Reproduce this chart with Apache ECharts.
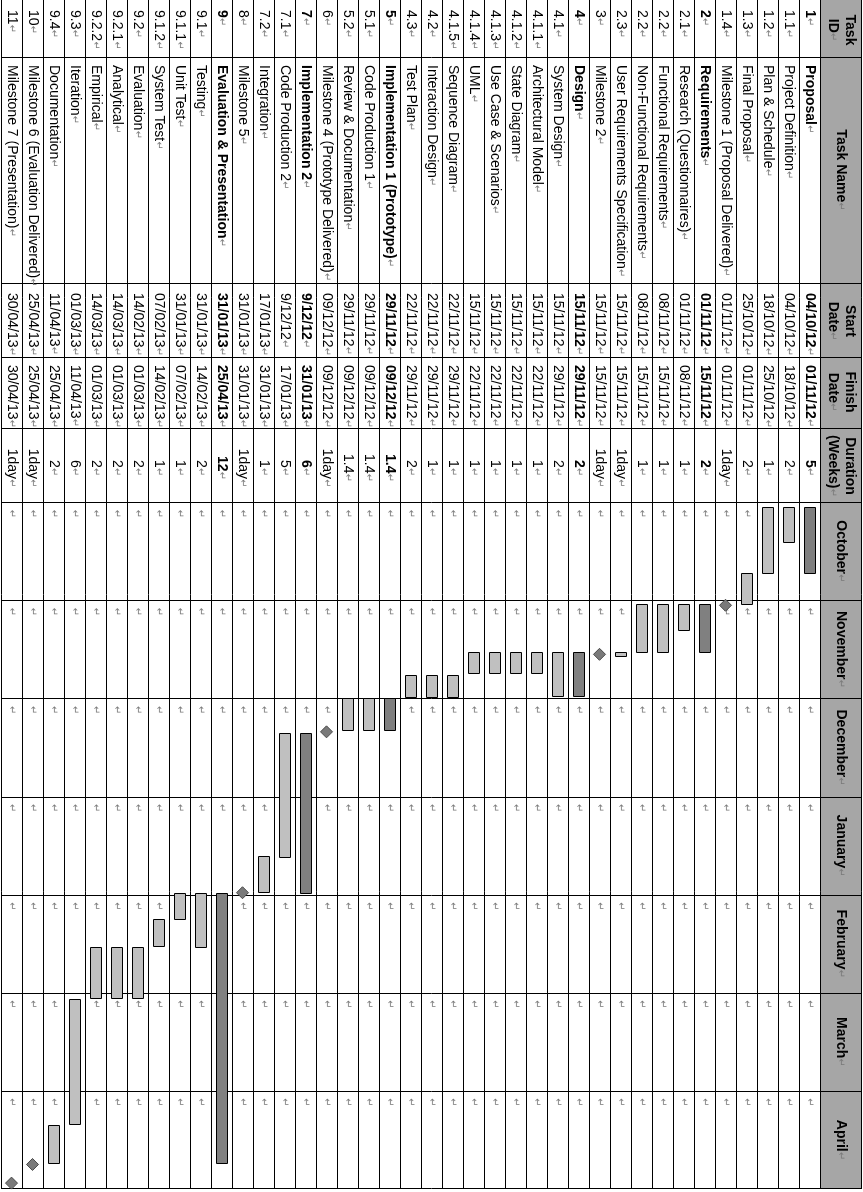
<!DOCTYPE html>
<html>
<head>
<meta charset="utf-8">
<script src="https://cdn.jsdelivr.net/npm/echarts@6/dist/echarts.min.js"></script>
<style>
html,body{margin:0;padding:0;background:#fff;}
#c{width:863px;height:1192px;}
</style>
</head>
<body>
<div id="c"></div>
<script>
// ---------------- DATA ----------------
const taskIds = ['1','1.1','1.2','1.3','1.4','2','2.1','2.2','2.2','2.3','3','4','4.1','4.1.1','4.1.2','4.1.3','4.1.4','4.1.5','4.2','4.3','5','5.1','5.2','6','7','7.1','7.2','8','9','9.1','9.1.1','9.1.2','9.2','9.2.1','9.2.2','9.3','9.4','10','11'];
const taskNames = ['Proposal','Project Definition','Plan & Schedule','Final Proposal','Milestone 1 (Proposal Delivered)','Requirements','Research (Questionnaires)','Functional Requirements','Non-Functional Requirements','User Requirements Specification','Milestone 2','Design','System Design','Architectural Model','State Diagram','Use Case & Scenarios','UML','Sequence Diagram','Interaction Design','Test Plan','Implementation 1 (Prototype)','Code Production 1','Review & Documentation','Milestone 4 (Prototype Delivered)','Implementation 2','Code Production 2','Integration','Milestone 5','Evaluation & Presentation','Testing','Unit Test','System Test','Evaluation','Analytical','Empirical','Iteration','Documentation','Milestone 6 (Evaluation Delivered)','Milestone 7 (Presentation)'];
const startDates = ['04/10/12','04/10/12','18/10/12','25/10/12','01/11/12','01/11/12','01/11/12','08/11/12','08/11/12','15/11/12','15/11/12','15/11/12','15/11/12','15/11/12','15/11/12','15/11/12','15/11/12','22/11/12','22/11/12','22/11/12','29/11/12','29/11/12','29/11/12','09/12/12','9/12/12','9/12/12','17/01/13','31/01/13','31/01/13','31/01/13','31/01/13','07/02/13','14/02/13','14/03/13','14/03/13','01/03/13','11/04/13','25/04/13','30/04/13'];
const finishDates = ['01/11/12','18/10/12','25/10/12','01/11/12','01/11/12','15/11/12','08/11/12','15/11/12','15/11/12','15/11/12','15/11/12','29/11/12','29/11/12','22/11/12','22/11/12','22/11/12','22/11/12','29/11/12','29/11/12','29/11/12','09/12/12','09/12/12','09/12/12','09/12/12','31/01/13','17/01/13','31/01/13','31/01/13','25/04/13','14/02/13','07/02/13','14/02/13','01/03/13','01/03/13','01/03/13','11/04/13','25/04/13','25/04/13','30/04/13'];
const durations = ['5','2','1','2','1day','2','1','1','1','1day','1day','2','2','1','1','1','1','1','1','2','1.4','1.4','1.4','1day','6','5','1','1day','12','2','1','1','2','2','2','6','2','1day','1day'];
// S = summary (bold, dark bar), T = task (light bar), M = milestone (diamond)
const taskKinds = ['S','T','T','T','M','S','T','T','T','T','M','S','T','T','T','T','T','T','T','T','S','T','T','M','S','T','T','M','S','T','T','T','T','T','T','T','T','M','M'];
// bar extents, in months since the start of October (0 = 1 Oct column edge)
const barStart = [0.05,0.05,0.05,0.72,null,1.04,1.04,1.04,1.04,1.53,null,1.53,1.53,1.53,1.53,1.53,1.53,1.76,1.76,1.76,1.99,1.99,1.99,null,2.35,2.35,3.61,null,3.98,3.98,3.98,4.25,4.53,4.53,4.53,5.06,6.35,null,null];
const barEnd   = [0.72,0.41,0.72,1.04,null,1.53,1.31,1.53,1.53,1.57,null,1.98,1.98,1.74,1.74,1.74,1.74,1.98,1.98,1.98,2.32,2.32,2.32,null,3.98,3.61,3.98,null,6.73,4.53,4.25,4.53,5.05,5.05,5.05,6.33,6.74,null,null];
const milestoneAt = [null,null,null,null,1.05,null,null,null,null,null,1.55,null,null,null,null,null,null,null,null,null,null,null,null,2.34,null,null,null,3.98,null,null,null,null,null,null,null,null,null,6.75,6.94];
const months = ['October','November','December','January','February','March','April'];
const columnHeaders = ['Task\nID','Task Name','Start\nDate','Finish\nDate','Duration\n(Weeks)'];

// ---------------- LAYOUT / STYLE ----------------
const U_MIN = -5.12, U_MAX = 7;          // vertical axis (month units; negative = text columns)
const R_MIN = -2, R_MAX = 39;            // horizontal axis (rows; header occupies -2..0)
const COL_EDGES_PX = [57, 283, 357, 428];// text column separators (px from table top)
const COL_TEXT = [ {at:10, align:'left'}, {at:65, align:'left'}, {at:293, align:'left'}, {at:365, align:'left'}, {at:468, align:'center'} ];
const HEAD_CENTERS_PX = [30, 170, 321, 392, 466];
const FONT = '"Liberation Sans", Arial, sans-serif';
const FS = 14;
const MARK = '{m|\u21B5}';
const RICH = { m: { fontFamily: '"DejaVu Sans", sans-serif', fontSize: 10, fill: '#7a7a7a', fontWeight: 'normal' } };
const HEADER_BG = '#a6a6a6';
const DARK = '#808080', LIGHT = '#c0c0c0';

function crisp(v){ return Math.round(v) + 0.5; }

function rotText(x, y, text, align, bold) {
  return {
    type: 'text', x: x, y: y, rotation: -Math.PI / 2,
    style: {
      text: text, align: align, verticalAlign: 'middle',
      fontFamily: FONT, fontSize: FS, fontWeight: bold ? 'bold' : 'normal',
      fill: '#000', lineHeight: 17, rich: RICH
    }
  };
}

const chart = echarts.init(document.getElementById('c'), null, { renderer: 'canvas' });

const rowItems = taskIds.map((_, i) => [i]);
const barItems = [];
taskIds.forEach((_, i) => { if (barStart[i] != null) barItems.push([i, barStart[i], barEnd[i]]); });
const msItems = [];
taskIds.forEach((_, i) => { if (milestoneAt[i] != null) msItems.push([i, milestoneAt[i]]); });
const cellItems = [];
taskIds.forEach((_, i) => months.forEach((__, m) => cellItems.push([i, m])));

const option = {
  animation: false,
  backgroundColor: '#fff',
  grid: { left: 1, right: 1, top: 0, bottom: 3, containLabel: false },
  xAxis: { type: 'value', min: R_MIN, max: R_MAX, inverse: true, show: false },
  yAxis: { type: 'value', min: U_MIN, max: U_MAX, inverse: true, show: false },
  series: [
    { // header background
      type: 'custom', silent: true, z: 1, data: [[0]],
      renderItem: (params, api) => {
        const a = api.coord([0, U_MIN]), b = api.coord([R_MIN, U_MAX]);
        return { type: 'rect', shape: { x: a[0], y: a[1], width: b[0] - a[0], height: b[1] - a[1] }, style: { fill: HEADER_BG } };
      }
    },
    { // month cell paragraph marks
      type: 'custom', silent: true, z: 2, data: cellItems,
      renderItem: (params, api) => {
        const p = api.coord([api.value(0) + 0.5, api.value(1) + 0.116]);
        return rotText(p[0], p[1], MARK, 'center', false);
      }
    },
    { // table rules
      type: 'custom', silent: true, z: 3, data: [[0]],
      renderItem: (params, api) => {
        const top = api.coord([0, U_MIN])[1];
        const bottom = api.coord([0, U_MAX])[1];
        const left = api.coord([R_MAX, 0])[0];
        const right = api.coord([R_MIN, 0])[0];
        const kids = [];
        const st = { stroke: '#000', lineWidth: 1 };
        for (let k = 0; k <= taskIds.length; k++) {
          const x = crisp(api.coord([k, 0])[0]);
          kids.push({ type: 'line', shape: { x1: x, y1: top, x2: x, y2: bottom }, style: st });
        }
        const xr = Math.round(right) - 0.5;
        kids.push({ type: 'line', shape: { x1: xr, y1: top, x2: xr, y2: bottom }, style: st });
        COL_EDGES_PX.forEach(p => {
          const y = crisp(top + p);
          kids.push({ type: 'line', shape: { x1: left, y1: y, x2: right, y2: y }, style: st });
        });
        for (let m = 0; m <= months.length; m++) {
          let y = crisp(api.coord([0, m])[1]);
          if (m === months.length) y = Math.round(bottom) - 0.5;
          kids.push({ type: 'line', shape: { x1: left, y1: y, x2: right, y2: y }, style: st });
        }
        return { type: 'group', children: kids };
      }
    },
    { // header texts
      type: 'custom', silent: true, z: 4, data: [[0]],
      renderItem: (params, api) => {
        const top = api.coord([0, U_MIN])[1];
        const cx = api.coord([R_MIN / 2, 0])[0];
        const kids = columnHeaders.map((h, c) => rotText(cx, top + HEAD_CENTERS_PX[c], h + MARK, 'center', true));
        months.forEach((mn, m) => {
          const p = api.coord([R_MIN / 2, m + 0.5]);
          kids.push(rotText(p[0], p[1], mn + MARK, 'center', true));
        });
        return { type: 'group', children: kids };
      }
    },
    { // task row texts
      type: 'custom', silent: true, z: 4, data: rowItems,
      renderItem: (params, api) => {
        const i = api.value(0);
        const cx = api.coord([i + 0.5, 0])[0];
        const top = api.coord([0, U_MIN])[1];
        const bold = taskKinds[i] === 'S';
        const vals = [taskIds[i], taskNames[i], startDates[i], finishDates[i], durations[i]];
        return { type: 'group', children: vals.map((t, c) => rotText(cx, top + COL_TEXT[c].at, t + MARK, COL_TEXT[c].align, bold)) };
      }
    },
    { // task bars
      type: 'custom', silent: true, z: 5, data: barItems,
      renderItem: (params, api) => {
        const i = api.value(0);
        const p1 = api.coord([i + 0.5, api.value(1)]);
        const p2 = api.coord([i + 0.5, api.value(2)]);
        const w = Math.abs(api.size([1, 0])[0]) * 0.53;
        const x = Math.round(p1[0] - w / 2) + 0.5;
        const y = Math.round(p1[1]) + 0.5;
        return {
          type: 'rect',
          shape: { x: x, y: y, width: Math.round(w), height: Math.max(2, Math.round(p2[1] - p1[1])) },
          style: { fill: taskKinds[i] === 'S' ? DARK : LIGHT, stroke: '#000', lineWidth: 1 }
        };
      }
    },
    { // milestones
      type: 'custom', silent: true, z: 6, data: msItems,
      renderItem: (params, api) => {
        const p = api.coord([api.value(0) + 0.5, api.value(1)]);
        const h = 6;
        return {
          type: 'polygon',
          shape: { points: [[p[0], p[1] - h], [p[0] + h, p[1]], [p[0], p[1] + h], [p[0] - h, p[1]]] },
          style: { fill: '#7a7a7a', stroke: '#4a4a4a', lineWidth: 1 }
        };
      }
    }
  ]
};
chart.setOption(option);
</script>
</body>
</html>
